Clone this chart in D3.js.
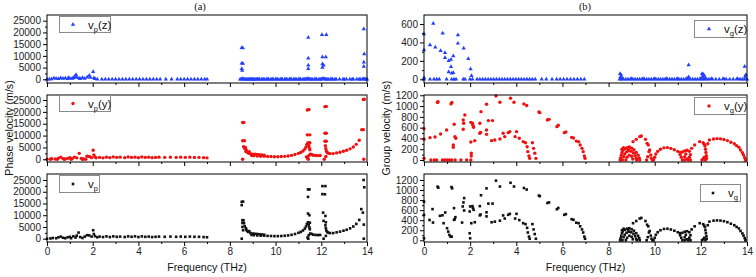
<!DOCTYPE html>
<html><head><meta charset="utf-8">
<script src="https://cdn.jsdelivr.net/npm/d3@7"></script>
<style>body{margin:0;background:#fff}svg{display:block;font-family:"Liberation Sans",Arial,sans-serif}</style>
</head><body><svg id="c" width="756" height="277"></svg>
<script>
// ---------- axis ticks ----------
const FREQ_TICKS = [0,2,4,6,8,10,12,14];
const FREQ_MINOR = [1,3,5,7,9,11,13];
const PHASE_TICKS = [0,5000,10000,15000,20000,25000];
const PHASE_MINOR = [2500,7500,12500,17500,22500];
const GZ_TICKS = [0,200,400,600];
const GZ_MINOR = [100,300,500];
const G_TICKS = [0,200,400,600,800,1000,1200];
const G_MINOR = [100,300,500,700,900,1100];

// ---------- data: [frequency THz, velocity m/s] ----------
const vpZ = [
[0.0,0],[0.1,0],[0.2,100],[0.3,500],[0.4,300],[0.5,200],[0.6,600],[0.7,300],[0.8,500],[0.9,200],[0.95,700],[1.0,400],
[1.1,300],[1.15,600],[1.2,1100],[1.27,1900],[1.3,800],[1.4,500],[1.45,200],[1.55,700],[1.65,300],[1.76,850],[1.85,1600],
[1.9,800],[2.02,3200],[2.05,600],[2.1,200],[2.2,0],[2.4,0],[2.55,0],[2.7,0],[2.85,0],[3.0,0],[3.15,0],[3.3,0],[3.45,0],
[3.6,0],[3.75,0],[3.9,0],[4.05,0],[4.2,0],[4.35,0],[4.5,0],[4.65,0],[4.8,0],[4.95,0],[5.2,0],[5.45,0],[5.7,0],[5.85,0],
[6.0,0],[6.15,0],[6.3,0],[6.45,0],[6.6,0],[6.75,0],[6.9,0],[7.0,0],
[8.45,0],[8.5,0],[8.55,200],[8.6,0],[8.7,0],[8.8,0],[8.9,0],[9.0,0],[9.1,0],[9.2,0],[9.3,0],[9.4,0],[9.5,0],[9.6,0],
[9.7,0],[9.8,0],[9.9,0],[10.0,0],[10.1,0],[10.2,0],[10.3,0],[10.4,0],[10.5,0],[10.6,0],[10.7,0],[10.8,0],[10.9,0],[11.0,0],
[11.1,0],[11.2,0],[11.3,0],[11.4,200],[11.5,0],[11.6,0],[11.7,0],[11.8,0],[11.9,0],[12.0,0],[12.1,200],[12.2,0],[12.3,0],
[12.4,0],[12.5,0],[12.65,0],[12.8,0],[12.95,0],[13.1,0],[13.25,0],[13.4,0],[13.55,0],[13.7,0],[13.8,0],[13.9,0],[14.0,0],
[8.65,0],[8.75,0],[8.85,0],[8.95,0],[9.05,0],[9.15,0],[9.25,0],[9.45,0],[9.65,0],[9.85,0],[10.05,0],[10.25,0],[10.45,0],
[10.65,0],[10.85,0],[11.05,0],[11.25,0],[11.35,0],[11.45,100],[11.55,0],[11.75,0],[11.95,0],[12.05,100],[12.15,100],
[12.25,0],[12.45,0],[12.6,0],[13.0,0],[13.35,0],[13.65,0],[13.85,100],[13.95,0],
[8.52,13500],[8.57,13300],[8.52,6800],[8.57,6700],[8.52,4500],[8.54,3700],
[11.43,17800],[11.43,9000],[11.43,6000],[11.43,4500],
[12.03,19000],[12.22,19000],[12.05,9500],[12.2,9500],[12.05,6500],[12.1,6000],[12.05,5000],
[13.86,21500],[13.88,10800],[13.86,7300],[13.86,5500]
];
const vpY = [
[0.0,0],[0.15,0],[0.2,200],[0.35,100],[0.45,0],[0.5,500],[0.6,900],[0.7,300],[0.75,0],[0.8,100],[0.9,400],[1.0,700],
[1.05,0],[1.1,200],[1.2,900],[1.3,600],[1.41,2500],[1.5,400],[1.55,0],[1.6,100],[1.7,0],[1.75,1300],[1.85,1200],[1.95,700],
[2.02,3800],[2.05,1800],[2.1,1000],[2.15,600],[2.3,800],[2.45,600],[2.6,900],[2.75,700],[2.9,1000],[3.05,800],[3.2,900],
[3.4,700],[3.55,1000],[3.7,800],[3.85,900],[4.0,700],[4.15,1000],[4.3,800],[4.45,900],[4.6,700],[4.75,800],[4.9,900],
[5.15,800],[5.4,900],[5.65,800],[5.85,900],[6.05,800],[6.25,900],[6.45,800],[6.65,800],[6.85,700],[7.0,600],
[8.56,0],[8.56,15500],[8.61,15500],[8.56,7800],[8.64,7800],[8.6,5300],[8.68,5000],[8.65,4500],[8.72,3900],[8.7,3300],
[8.78,2900],[8.82,2500],[8.85,3200],[8.9,2400],[9.0,2200],[9.1,2100],[9.2,2000],[9.3,1900],[9.4,1800],[9.5,1700],
[8.95,1600],[9.05,1500],[9.2,1400],[9.35,1300],[9.5,1250],[9.65,1200],[9.8,1150],[9.95,1100],[10.1,1100],[10.25,1150],
[10.4,1250],[10.55,1400],[10.7,1650],[10.85,2000],[11.0,2500],[11.1,2900],[11.2,3500],[11.28,4300],[11.33,5200],
[11.37,6300],[11.39,10300],[11.5,10300],[11.39,20800],[11.46,21000],[11.42,7000],[11.5,7000],[11.45,5800],[11.48,4800],
[11.5,4000],[11.43,0],[11.35,1000],[11.4,500],[11.45,1500],[11.52,2200],[11.58,2000],[11.65,1700],[11.75,1600],
[11.85,1550],[11.95,1600],[12.16,22200],[12.22,22300],[12.16,11000],[12.22,11000],[12.16,7600],[12.22,7600],
[12.18,5700],[12.2,4500],[12.22,3500],[12.26,2900],[12.3,2600],[12.38,2400],[12.13,0],[12.2,1200],[12.52,2400],
[12.67,2700],[12.82,3000],[12.97,3400],[13.11,3800],[13.26,4400],[13.4,5200],[13.53,6300],[13.66,8000],[13.77,12500],
[13.84,12500],[13.84,25200],[13.88,25300],[13.86,0]
];
const vp = [
[0.0,0],[0.15,100],[0.25,300],[0.4,200],[0.5,600],[0.6,900],[0.7,400],[0.8,200],[0.9,600],[1.0,800],[1.05,200],
[1.15,1000],[1.25,500],[1.3,1300],[1.38,2600],[1.45,700],[1.55,300],[1.65,900],[1.75,1500],[1.85,1400],[1.95,900],
[2.02,3600],[2.05,2000],[2.1,1100],[2.2,600],[2.3,900],[2.45,700],[2.6,1000],[2.75,700],[2.9,1000],[3.05,800],
[3.2,900],[3.4,700],[3.55,1000],[3.7,800],[3.85,1000],[4.0,700],[4.15,1000],[4.3,800],[4.45,900],[4.6,700],[4.75,800],
[4.9,900],[5.15,800],[5.4,900],[5.65,800],[5.85,900],[6.05,800],[6.25,900],[6.45,800],[6.65,800],[6.85,700],[7.0,600],
[8.52,0],[8.52,15700],[8.58,15800],[8.52,14300],[8.55,7900],[8.6,7800],[8.55,6700],[8.62,6600],[8.55,5000],[8.58,3600],
[8.65,5300],[8.7,4500],[8.72,3900],[8.75,3300],[8.8,2900],[8.85,3200],[8.9,2400],[9.0,2200],[9.1,2100],[9.2,2000],
[9.3,1900],[9.4,1800],[9.5,1700],[8.95,1600],[9.05,1500],[9.2,1400],[9.35,1300],[9.5,1250],[9.65,1200],[9.8,1150],
[9.95,1100],[10.1,1100],[10.25,1150],[10.4,1250],[10.55,1400],[10.7,1650],[10.85,2000],[11.0,2500],[11.1,2900],
[11.2,3500],[11.28,4300],[11.33,5200],[11.37,6300],[11.42,21000],[11.48,21000],[11.42,17800],[11.42,10700],[11.48,10000],
[11.42,7000],[11.5,6800],[11.45,5800],[11.48,4800],[11.5,4000],[11.43,0],[11.4,500],[11.45,1500],[11.52,2200],
[11.58,2000],[11.65,1700],[11.75,1600],[11.85,1550],[11.95,1600],[12.05,22400],[12.18,22400],[12.05,19000],[12.16,18900],
[12.08,11100],[12.18,9700],[12.1,7600],[12.2,7000],[12.18,5700],[12.2,4500],[12.22,3500],[12.26,2900],[12.3,2600],
[12.38,2400],[12.1,0],[12.2,1200],[12.52,2400],[12.67,2700],[12.82,3000],[12.97,3400],[13.11,3800],[13.26,4400],
[13.4,5200],[13.53,6300],[13.66,8000],[13.75,12600],[13.82,11100],[13.85,25000],[13.88,21900],[13.86,6000],[13.86,0]
];
const vgZ = [
[0.0,491],[0.0,318],[0.0,17],[0.26,372],[0.40,607],[0.49,347],[0.72,310],[0.81,499],[0.91,289],[0.91,234],[1.07,202],
[1.17,216],[1.27,253],[1.17,137],[1.07,79],[1.2,65],[1.27,72],[1.47,480],[1.47,390],[1.72,336],[1.92,224],[2.02,112],
[2.06,39],[0.0,0],[0.26,0],[0.43,0],[0.55,0],[0.66,0],[0.98,0],[1.2,0],[1.3,0],[1.39,0],[1.7,0],[1.78,0],[1.99,0],
[2.1,0],[2.3,0],[2.42,0],[2.54,0],[2.66,0],[2.78,0],[2.9,0],[3.02,0],[3.14,0],[3.26,0],[3.38,0],[3.5,0],[3.62,0],
[3.74,0],[3.86,0],[3.98,0],[4.1,0],[4.22,0],[4.34,0],[4.46,0],[4.58,0],[4.7,0],[4.82,0],[5.1,0],[5.3,0],[5.55,0],
[5.75,0],[5.9,0],[6.05,0],[6.2,0],[6.35,0],[6.5,0],[6.65,0],[6.8,0],[6.95,0],
[8.48,0],[8.55,0],[8.65,0],[8.75,0],[8.85,0],[8.95,0],[9.05,0],[9.15,0],[9.25,0],[9.35,0],[9.45,0],[9.55,0],[9.65,0],
[9.75,0],[9.85,0],[9.95,0],[10.05,0],[10.15,0],[10.25,0],[10.35,0],[10.45,0],[10.55,0],[10.65,0],[10.75,0],[10.85,0],
[10.95,0],[11.05,0],[11.15,0],[11.25,0],[11.35,0],[11.45,0],[11.55,0],[11.65,0],[11.75,0],[11.85,0],[11.95,0],[12.05,0],
[12.15,0],[12.25,0],[12.35,0],[12.5,0],[12.65,0],[12.8,0],[12.95,0],[13.1,0],[13.25,0],[13.4,0],[13.55,0],[13.7,0],
[13.8,0],[13.9,0],[14.0,0],
[8.52,10],[8.6,5],[9.0,5],[9.5,5],[10.0,5],[10.5,5],[11.0,5],[11.4,10],[12.0,10],[12.2,10],[12.45,5],[13.0,5],[13.6,5],
[8.5,60],[8.55,45],[8.52,25],[11.47,155],[11.47,25],[12.05,60],[12.1,55],[12.15,40],[12.08,30],[12.12,20],
[13.9,140],[13.95,50],[13.92,30]
];
const vgY = [
[0.0,581],[0.0,384],[0.0,31],[0.26,414],[0.48,426],[0.58,1067],[0.61,1080],[0.72,482],[0.98,557],[1.17,1040],
[1.21,1067],[1.27,278],[1.27,235],[1.34,433],[1.38,402],[1.31,662],[1.70,742],[1.70,569],[1.72,680],[1.77,835],
[2.03,334],[2.05,124],[2.05,74],[2.03,0],[2.03,698],[2.1,680],[2.12,643],[2.15,606],[2.2,359],[2.42,680],[2.42,495],
[2.45,513],[2.47,896],[2.71,1033],[2.71,557],[2.71,476],[2.79,730],[2.97,730],[2.93,359],[3.07,371],[3.12,1187],
[3.29,1070],[3.29,390],[3.43,495],[3.5,433],[3.65,507],[3.72,526],[3.75,1144],[3.9,1070],[4.01,526],[3.95,433],
[4.13,402],[4.33,1040],[4.45,1010],[4.3,340],[4.4,321],[4.47,247],[4.5,155],[4.55,74],[4.58,31],[4.7,321],[4.75,216],
[4.8,124],[4.85,31],[4.98,890],[5.02,878],[5.35,742],[5.42,754],[5.76,618],[5.82,643],[6.08,507],[6.15,520],[6.4,420],
[6.48,408],[6.6,350],[6.7,340],[6.77,278],[6.85,216],[6.9,155],[6.95,74],[6.98,31],
[0.3,0],[0.45,0],[0.55,0],[0.8,0],[0.9,0],[1.0,0],[1.1,0],[1.2,0],[1.35,0],[1.6,0],[1.85,0],
[8.5,0],[8.52,40],[8.55,90],[8.58,140],[8.62,180],[8.7,210],[8.8,230],[8.9,240],[9.0,220],[9.1,190],[9.2,140],
[9.28,90],[9.33,40],[9.35,0],[8.6,0],[8.65,60],[8.7,110],[8.78,150],[8.88,170],[8.98,160],[9.08,130],[9.15,80],
[9.2,30],[9.22,0],[8.75,0],[8.8,50],[8.9,90],[9.0,70],[9.05,20],[8.58,200],[8.65,230],[8.85,200],
[9.06,340],[9.2,383],[9.35,433],[9.42,445],[9.6,383],[9.67,309],[9.72,278],[9.78,185],[9.83,93],[9.86,31],[9.7,62],
[9.75,155],[9.65,0],[9.9,0],
[9.95,0],[10.0,50],[10.05,110],[10.13,160],[10.25,200],[10.4,225],[10.55,230],[10.7,215],[10.85,190],[11.0,160],
[11.1,140],[11.2,150],[11.3,170],[11.4,180],[11.5,160],[11.1,100],[11.15,50],[11.2,0],[11.3,60],[11.35,110],
[11.4,20],[11.45,0],[11.5,50],[11.55,100],[11.3,0],[11.55,0],
[11.6,216],[11.73,278],[11.95,340],[12.1,320],[12.18,260],[12.2,200],[12.22,140],[12.24,80],[12.25,30],[12.05,0],
[12.1,20],[12.15,50],[12.2,0],[12.37,371],[12.55,390],[12.7,396],[12.85,392],[13.0,380],[13.15,360],[13.3,330],
[13.45,300],[13.55,266],[13.65,235],[13.72,185],[13.8,136],[13.85,93],[13.9,43],[13.93,0],[12.3,300],[12.15,290]
];
const vg = [
[0.0,504],[0.0,769],[0.0,40],[0.24,404],[0.37,620],[0.39,353],[0.59,1067],[0.62,1047],[0.69,487],[0.8,497],
[0.85,340],[0.92,553],[1.0,240],[1.05,173],[1.1,107],[1.15,73],[1.2,73],[1.19,1060],[1.22,1034],[1.3,407],[1.33,418],
[1.36,460],[1.3,640],[1.65,353],[1.68,673],[1.71,753],[1.74,840],[1.74,593],[1.98,573],[2.0,673],[2.05,340],
[1.98,140],[2.0,40],
[2.1,680],[2.12,643],[2.15,606],[2.2,359],[2.42,680],[2.42,495],[2.45,513],[2.47,896],[2.71,1033],[2.71,557],
[2.71,476],[2.79,730],[2.97,730],[2.93,359],[3.07,371],[3.12,1187],[3.29,1070],[3.29,390],[3.43,495],[3.5,433],
[3.65,507],[3.72,526],[3.75,1144],[3.9,1070],[4.01,526],[3.95,433],[4.13,402],[4.33,1040],[4.45,1010],[4.3,340],
[4.4,321],[4.47,247],[4.5,155],[4.55,74],[4.58,31],[4.7,321],[4.75,216],[4.8,124],[4.85,31],[4.98,890],[5.02,878],
[5.35,742],[5.42,754],[5.76,618],[5.82,643],[6.08,507],[6.15,520],[6.4,420],[6.48,408],[6.6,350],[6.7,340],[6.77,278],
[6.85,216],[6.9,155],[6.95,74],[6.98,31],
[8.5,0],[8.52,40],[8.55,90],[8.58,140],[8.62,180],[8.7,210],[8.8,230],[8.9,240],[9.0,220],[9.1,190],[9.2,140],
[9.28,90],[9.33,40],[9.35,0],[8.6,0],[8.65,60],[8.7,110],[8.78,150],[8.88,170],[8.98,160],[9.08,130],[9.15,80],
[9.2,30],[9.22,0],[8.75,0],[8.8,50],[8.9,90],[9.0,70],[9.05,20],[8.58,200],[8.65,230],[8.85,200],
[9.06,340],[9.2,383],[9.35,433],[9.42,445],[9.6,383],[9.67,309],[9.72,278],[9.78,185],[9.83,93],[9.86,31],[9.7,62],
[9.75,155],[9.65,0],[9.9,0],
[9.95,0],[10.0,50],[10.05,110],[10.13,160],[10.25,200],[10.4,225],[10.55,230],[10.7,215],[10.85,190],[11.0,160],
[11.1,140],[11.2,150],[11.3,170],[11.4,180],[11.5,160],[11.1,100],[11.15,50],[11.2,0],[11.3,60],[11.35,110],
[11.4,20],[11.45,0],[11.5,50],[11.55,100],[11.3,0],[11.55,0],
[11.6,216],[11.73,278],[11.95,340],[12.1,320],[12.18,260],[12.2,200],[12.22,140],[12.24,80],[12.25,30],[12.05,0],
[12.1,20],[12.15,50],[12.2,0],[12.37,371],[12.55,390],[12.7,396],[12.85,392],[13.0,380],[13.15,360],[13.3,330],
[13.45,300],[13.55,266],[13.65,235],[13.72,185],[13.8,136],[13.85,93],[13.9,43],[13.93,0],[12.3,300],[12.15,290]
];

// ---------- styling / layout ----------
const BLUE = "#2340ff", RED = "#f01010", BLACK = "#111";
const svg = d3.select("#c");
const FONT = "'Liberation Sans', Arial, sans-serif";

const panels = [
  {data:vpZ, shape:"tri", color:BLUE, xr:[47,367], yr:[83,15], dom:[-1580,27430], t:PHASE_TICKS, m:PHASE_MINOR, xl:false,
   leg:{x:59,y:16,w:51,h:16,mx:73,tx:88,sub:"p",suf:"(z)"}},
  {data:vpY, shape:"circ", color:RED, xr:[47,367], yr:[162,95], dom:[-1140,27110], t:PHASE_TICKS, m:PHASE_MINOR, xl:false,
   leg:{x:59,y:95,w:51,h:16,mx:73,tx:88,sub:"p",suf:"(y)"}},
  {data:vp, shape:"sq", color:BLACK, xr:[47,367], yr:[242,174], dom:[-1405,27555], t:PHASE_TICKS, m:PHASE_MINOR, xl:true,
   leg:{x:59,y:175,w:40,h:17,mx:73,tx:88,sub:"p",suf:""}},
  {data:vgZ, shape:"tri", color:BLUE, xr:[424,747], yr:[83,15], dom:[-40,698], t:GZ_TICKS, m:GZ_MINOR, xl:false,
   leg:{x:694,y:20,w:52,h:17,mx:709,tx:724,sub:"g",suf:"(z)"}},
  {data:vgY, shape:"circ", color:RED, xr:[424,747], yr:[162,95], dom:[-37,1205], t:G_TICKS, m:G_MINOR, xl:false,
   leg:{x:694,y:97,w:52,h:17,mx:709,tx:724,sub:"g",suf:"(y)"}},
  {data:vg, shape:"sq", color:BLACK, xr:[424,747], yr:[242,174], dom:[-34,1319], t:G_TICKS, m:G_MINOR, xl:true,
   leg:{x:700,y:184,w:40,h:17,mx:713,tx:728,sub:"g",suf:""}}
];

function drawMark(sel, shape, color){
  if(shape==="tri"){
    sel.append("path").attr("d", d3.symbol(d3.symbolTriangle, 8)()).attr("fill", color);
  } else if(shape==="circ"){
    sel.append("circle").attr("r", 1.7).attr("fill", color);
  } else {
    sel.append("rect").attr("x",-1.3).attr("y",-1.3).attr("width",2.6).attr("height",2.6).attr("fill", color);
  }
}

panels.forEach(p=>{
  const x = d3.scaleLinear().domain([0,14]).range(p.xr);
  const y = d3.scaleLinear().domain(p.dom).range(p.yr);
  const g = svg.append("g");

  const pts = g.append("g").selectAll("g").data(p.data).join("g")
    .attr("transform", d=>`translate(${x(d[0])},${y(d[1])})`);
  drawMark(pts, p.shape, p.color);

  g.append("rect").attr("x",p.xr[0]).attr("y",p.yr[1]).attr("width",p.xr[1]-p.xr[0]).attr("height",p.yr[0]-p.yr[1])
    .attr("fill","none").attr("stroke","#000").attr("stroke-width",1);

  const xa = g.append("g").attr("transform",`translate(0,${p.yr[0]})`)
    .call(d3.axisBottom(x).tickValues(FREQ_TICKS).tickSize(4).tickPadding(2)
      .tickFormat(p.xl ? d3.format("d") : ""));
  const xm = g.append("g").attr("transform",`translate(0,${p.yr[0]})`)
    .call(d3.axisBottom(x).tickValues(FREQ_MINOR).tickSize(2).tickFormat(""));
  const ya = g.append("g").attr("transform",`translate(${p.xr[0]},0)`)
    .call(d3.axisLeft(y).tickValues(p.t).tickSize(4).tickPadding(2).tickFormat(d3.format("d")));
  const ym = g.append("g").attr("transform",`translate(${p.xr[0]},0)`)
    .call(d3.axisLeft(y).tickValues(p.m).tickSize(2).tickFormat(""));
  [xa,xm,ya,ym].forEach(a=>{
    a.select(".domain").remove();
    a.attr("font-family",FONT).attr("font-size",10);
    a.selectAll("line").attr("stroke","#000");
    a.selectAll("text").attr("fill","#222");
  });

  const L = p.leg;
  const lg = g.append("g");
  lg.append("rect").attr("x",L.x+0.5).attr("y",L.y+0.5).attr("width",L.w).attr("height",L.h)
    .attr("fill","#fff").attr("stroke","#8a8a8a").attr("stroke-width",1);
  drawMark(lg.append("g").attr("transform",`translate(${L.mx},${L.y+L.h/2+0.5})`), p.shape, p.color);
  const base = L.y + L.h/2 + 4.5;
  const t = lg.append("text").attr("x",L.tx).attr("y",base).attr("font-family",FONT).attr("font-size",11.5).attr("fill","#111");
  t.append("tspan").text("v");
  t.append("tspan").attr("font-size",7.5).attr("dy",3).text(L.sub);
  if(L.suf) t.append("tspan").attr("dy",-3).text(L.suf);
});

[[200,"(a)"],[585,"(b)"]].forEach(([cx,s])=>{
  svg.append("text").attr("x",cx).attr("y",10).attr("text-anchor","middle")
    .attr("font-family","'Liberation Serif', 'Times New Roman', serif").attr("font-size",10.5).attr("fill","#111").text(s);
});
[[207,"Frequency (THz)"],[585.5,"Frequency (THz)"]].forEach(([cx,s])=>{
  svg.append("text").attr("x",cx).attr("y",271).attr("text-anchor","middle")
    .attr("font-family",FONT).attr("font-size",10.6).attr("fill","#111").text(s);
});
[[9,"Phase velocity (m/s)"],[386,"Group velocity (m/s)"]].forEach(([cx,s])=>{
  svg.append("text").attr("transform",`translate(${cx+3.5},128) rotate(-90)`).attr("text-anchor","middle")
    .attr("font-family",FONT).attr("font-size",10.6).attr("fill","#111").text(s);
});
</script>
</body></html>
